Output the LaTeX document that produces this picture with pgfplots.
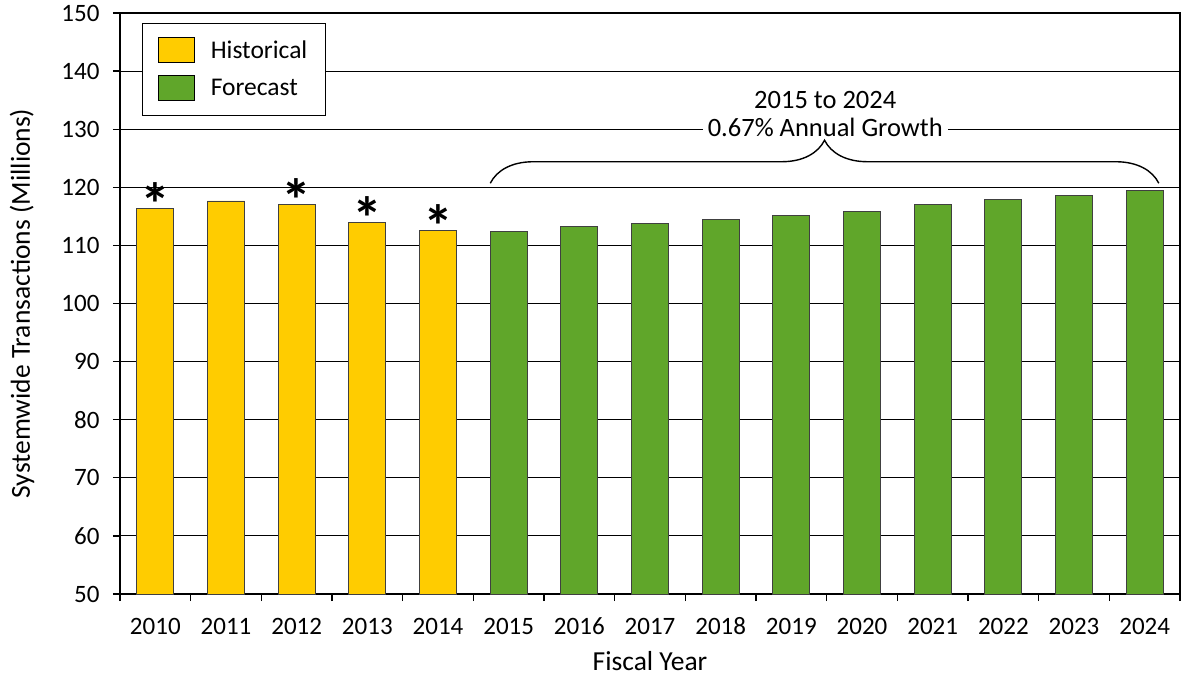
\documentclass[border=0pt]{standalone}
\usepackage{pgfplots}
\pgfplotsset{compat=1.18}
\usepackage{fontspec}
\setmainfont{Carlito}
\usetikzlibrary{decorations.pathreplacing}
\definecolor{histc}{RGB}{255,204,0}
\definecolor{forec}{RGB}{96,166,42}
\definecolor{edgec}{RGB}{64,64,64}
\begin{document}
\begin{tikzpicture}
\useasboundingbox (-120pt,-84pt) rectangle (1062pt,594pt);
\begin{axis}[
  at={(0pt,0pt)}, anchor=south west,
  scale only axis, width=1060pt, height=581pt,
  xmin=-0.5, xmax=14.5, ymin=50, ymax=150,
  ytick={50,60,70,80,90,100,110,120,130,140,150},
  xtick={-0.5,0.5,1.5,2.5,3.5,4.5,5.5,6.5,7.5,8.5,9.5,10.5,11.5,12.5,13.5,14.5},
  x tick label as interval,
  xticklabels={2010,2011,2012,2013,2014,2015,2016,2017,2018,2019,2020,2021,2022,2023,2024},
  xtick pos=bottom, ytick pos=left,
  tick align=outside, major tick length=7pt,
  tick style={black, line width=1.2pt},
  ymajorgrids, grid style={black, line width=0.9pt},
  axis line style={black, line width=1.3pt},
  /pgf/number format/assume math mode=true,
  tick label style={font=\fontsize{25}{29}\selectfont},
  label style={font=\fontsize{27.5}{32}\selectfont},
  ylabel={Systemwide Transactions (Millions)},
  xlabel={Fiscal Year},
  yticklabel style={xshift=-10pt},
  xticklabel style={anchor=center, text height=17pt, text depth=0pt, yshift=-25pt},
  ylabel style={at={(axis description cs:-0.0925,0.5)}, anchor=center},
  xlabel style={at={(axis description cs:0.5,-0.1315)}, anchor=base, inner sep=0pt},
  legend style={at={(22pt,571pt)}, anchor=north west, draw=black, line width=0.8pt, fill=white,
     font=\fontsize{25.5}{29}\selectfont, row sep=12pt, inner xsep=16pt, inner ysep=14pt},
  legend cell align=left,
  legend image code/.code={\draw[#1, draw=black, line width=0.8pt] (0pt,-12.5pt) rectangle (36pt,12.5pt); \path[draw=none,fill=none] (0pt,0pt) -- (50pt,0pt);},
  clip=false,
]
\addplot[ybar, bar width=37pt, bar shift=0pt, fill=histc, draw=edgec, line width=0.9pt]
  coordinates {(0,116.3) (1,117.65) (2,117.0) (3,113.9) (4,112.5)};
\addlegendentry{Historical}
\addplot[ybar, bar width=37pt, bar shift=0pt, fill=forec, draw=edgec, line width=0.9pt]
  coordinates {(5,112.4) (6,113.2) (7,113.8) (8,114.5) (9,115.1) (10,115.8) (11,117.0) (12,117.9) (13,118.6) (14,119.4)};
\addlegendentry{Forecast}
\addplot[draw=none, mark=none, forget plot,
  nodes near coords={\fontsize{60}{60}\selectfont\bfseries *},
  nodes near coords align={center},
  every node near coord/.append style={anchor=center, yshift=5pt}]
  coordinates {(0,116.3) (2,117.0) (3,113.9) (4,112.5)};
\draw[line width=1.4pt, decorate, decoration={brace, amplitude=43pt}]
  (axis cs:4.74,120.7) -- (axis cs:14.2,120.7);
\node[font=\fontsize{26.5}{30}\selectfont, anchor=center] at (axis cs:9.48,135.0) {2015 to 2024};
\node[font=\fontsize{26.5}{30}\selectfont, fill=white, inner xsep=5pt, inner ysep=1pt, anchor=center] at (axis cs:9.48,130.3) {0.67\% Annual Growth};
\end{axis}
\end{tikzpicture}
\end{document}
